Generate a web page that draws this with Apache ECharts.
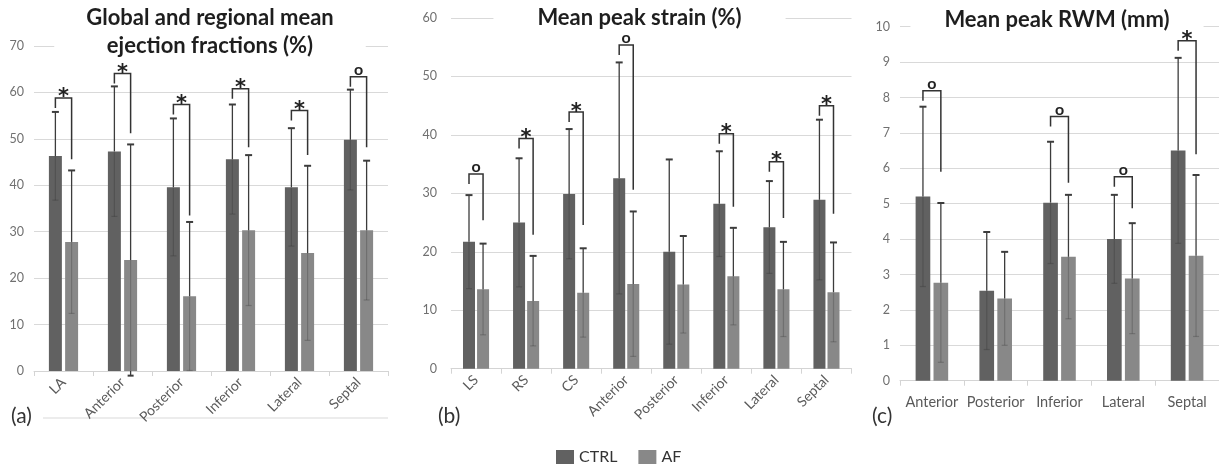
<!DOCTYPE html>
<html>
<head>
<meta charset="utf-8">
<script src="https://cdn.jsdelivr.net/npm/echarts@6/dist/echarts.min.js"></script>
<style>
  html, body { margin: 0; padding: 0; background: #fff; }
  #main { width: 1219px; height: 470px; }
</style>
</head>
<body>
<div id="main"></div>
<script>
// (a) ejection fractions
const catsA = ['LA', 'Anterior', 'Posterior', 'Inferior', 'Lateral', 'Septal']
const ctrlA = [46.3, 47.3, 39.6, 45.6, 39.6, 49.8]
const ctrlSdA = [9.5, 14.0, 14.8, 11.8, 12.7, 10.8]
const afA = [27.8, 23.9, 16.1, 30.3, 25.4, 30.3]
const afSdA = [15.4, 24.9, 16.0, 16.2, 18.8, 15.0]
const sigMarkA = ['*', '*', '*', '*', '*', 'o']
const sigTopA = [58.8, 64.1, 57.4, 60.8, 56.1, 63.4]
const sigEndA = [45.6, 51.2, 33.5, 48.2, 46.5, 48.2]

// (b) peak strain
const catsB = ['LS', 'RS', 'CS', 'Anterior', 'Posterior', 'Inferior', 'Lateral', 'Septal']
const ctrlB = [21.7, 25.0, 29.9, 32.6, 20.0, 28.2, 24.2, 28.9]
const ctrlSdB = [8.0, 11.0, 11.1, 19.8, 15.8, 9.0, 7.9, 13.7]
const afB = [13.6, 11.6, 13.0, 14.5, 14.4, 15.8, 13.6, 13.1]
const afSdB = [7.8, 7.7, 7.6, 12.4, 8.3, 8.3, 8.1, 8.5]
const sigMarkB = ['o', '*', '*', 'o', '', '*', '*', '*']
const sigTopB = [33.3, 39.4, 43.9, 55.4, null, 40.2, 35.4, 45.0]
const sigEndB = [25.4, 22.9, 24.6, 30.6, null, 27.7, 25.8, 26.5]

// (c) peak RWM
const catsC = ['Anterior', 'Posterior', 'Inferior', 'Lateral', 'Septal']
const ctrlC = [5.2, 2.54, 5.03, 4.0, 6.5]
const ctrlSdC = [2.54, 1.66, 1.72, 1.25, 2.62]
const afC = [2.77, 2.32, 3.5, 2.89, 3.53]
const afSdC = [2.25, 1.32, 1.75, 1.56, 2.28]
const sigMarkC = ['o', '', 'o', 'o', '*']
const sigTopC = [8.19, null, 7.46, 5.76, 9.6]
const sigEndC = [5.9, null, 5.59, 4.87, 6.4]

const CTRL_COLOR = '#616161'
const AF_COLOR = '#888888'
const FONT = 'Lato'

// error bar drawn at the bar centre (side -1 = CTRL, +1 = AF)
function errorItem (side, pct, gapPct) {
  return function (params, api) {
    const i = api.value(0)
    const w = api.size([1, 0])[0] * pct
    const x = api.coord([i, 0])[0] + side * (w + w * gapPct) / 2
    const zero = api.coord([i, 0])[1]
    const top = api.coord([i, api.value(1) + api.value(2)])[1]
    const mid = api.coord([i, api.value(1)])[1]
    const bot = api.coord([i, api.value(1) - api.value(2)])[1]
    const dark = { stroke: '#3c3c3c', lineWidth: 1.3 }
    const faint = { stroke: 'rgba(40,40,40,0.25)', lineWidth: 1.2 }
    const children = [
      { type: 'line', shape: { x1: x, y1: top, x2: x, y2: mid }, style: dark },
      { type: 'line', shape: { x1: x - 3.5, y1: top, x2: x + 3.5, y2: top }, style: { stroke: '#3c3c3c', lineWidth: 2 } },
      { type: 'line', shape: { x1: x, y1: mid, x2: x, y2: Math.min(bot, zero) }, style: faint },
      { type: 'line', shape: { x1: x - 3, y1: bot, x2: x + 3, y2: bot }, style: bot > zero ? { stroke: '#3c3c3c', lineWidth: 2 } : faint }
    ]
    if (bot > zero) {
      children.push({ type: 'line', shape: { x1: x, y1: zero, x2: x, y2: bot }, style: dark })
    }
    return { type: 'group', children }
  }
}

// significance bracket from CTRL to AF
function bracketItem (pct, gapPct, marks) {
  return function (params, api) {
    const i = api.value(0)
    const w = api.size([1, 0])[0] * pct
    const off = (w + w * gapPct) / 2
    const cx = api.coord([i, 0])[0]
    const yTop = api.coord([i, api.value(1)])[1]
    const yEnd = api.coord([i, api.value(2)])[1]
    const mark = marks[i]
    return {
      type: 'group',
      children: [
        {
          type: 'polyline',
          shape: { points: [[cx - off, yTop + 10], [cx - off, yTop], [cx + off, yTop], [cx + off, yEnd]] },
          style: { stroke: '#333', fill: null, lineWidth: 1.5 }
        },
        {
          type: 'text',
          style: {
            text: mark,
            x: cx,
            y: mark === '*' ? yTop : yTop - 7,
            fill: '#222',
            font: mark === '*' ? 'bold 21px "DejaVu Sans"' : 'bold 16px ' + FONT,
            align: 'center',
            verticalAlign: 'middle'
          }
        }
      ]
    }
  }
}

function panelSeries (idx, ctrl, ctrlSd, af, afSd, sigTop, sigEnd, marks, pct, gapPct) {
  const barW = Math.round(pct * 100) + '%'
  const gap = Math.round(gapPct * 100) + '%'
  const sig = []
  sigTop.forEach((v, i) => { if (v !== null) sig.push([i, v, sigEnd[i]]) })
  return [
    { name: 'CTRL', type: 'bar', xAxisIndex: idx, yAxisIndex: idx, data: ctrl, barWidth: barW, barGap: gap, itemStyle: { color: CTRL_COLOR }, z: 2 },
    { name: 'AF', type: 'bar', xAxisIndex: idx, yAxisIndex: idx, data: af, barWidth: barW, barGap: gap, itemStyle: { color: AF_COLOR }, z: 2 },
    { type: 'custom', xAxisIndex: idx, yAxisIndex: idx, renderItem: errorItem(-1, pct, gapPct), data: ctrl.map((v, i) => [i, v, ctrlSd[i]]), z: 3, silent: true },
    { type: 'custom', xAxisIndex: idx, yAxisIndex: idx, renderItem: errorItem(1, pct, gapPct), data: af.map((v, i) => [i, v, afSd[i]]), z: 3, silent: true },
    { type: 'custom', xAxisIndex: idx, yAxisIndex: idx, renderItem: bracketItem(pct, gapPct, marks), data: sig, z: 8, silent: true }
  ]
}

const gridLine = { lineStyle: { color: '#d9d9d9', width: 1 } }
const axisLabelStyle = { color: '#5a5a5a', fontFamily: FONT }

function xAxis (idx, cats, rotate, size) {
  return {
    type: 'category',
    gridIndex: idx,
    data: cats,
    axisLine: { lineStyle: { color: '#d4d4d4', width: 1 } },
    axisTick: { show: true, length: 5, lineStyle: { color: '#d4d4d4' } },
    axisLabel: Object.assign({ rotate, fontSize: size, margin: rotate ? 9 : 14, interval: 0 }, axisLabelStyle)
  }
}

function yAxis (idx, max, interval, margin) {
  return {
    type: 'value',
    gridIndex: idx,
    min: 0,
    max,
    interval,
    axisLine: { show: false },
    axisTick: { show: false },
    splitLine: gridLine,
    axisLabel: Object.assign({ fontSize: 12.5, margin }, axisLabelStyle, { color: '#707070' })
  }
}

function title (text, left, top, padX, lineHeight) {
  return {
    text,
    left,
    top,
    textAlign: 'center',
    padding: [2, padX],
    backgroundColor: '#fff',
    textStyle: { fontFamily: FONT, fontWeight: 'bold', fontSize: 22, color: '#1e1e1e', lineHeight }
  }
}

const myChart = echarts.init(document.getElementById('main'))

const option = {
  animation: false,
  backgroundColor: '#fff',
  title: [
    title('Global and regional mean\nejection fractions (%)', 210 - 32, 2, 32, 28),
    title('Mean peak strain (%)', 639.5 - 44, 3, 44, 26),
    title('Mean peak RWM (mm)', 1057 - 34, 5, 34, 26)
  ],
  legend: {
    data: ['CTRL', 'AF'],
    left: 551,
    top: 444,
    icon: 'rect',
    itemWidth: 18,
    itemHeight: 14,
    itemGap: 21,
    textStyle: { fontFamily: FONT, fontSize: 16, color: '#333' }
  },
  grid: [
    { left: 34, top: 46, width: 354, height: 325 },
    { left: 451, top: 18, width: 400.5, height: 350.7 },
    { left: 900, top: 26.7, width: 322.5, height: 354 }
  ],
  xAxis: [
    xAxis(0, catsA, 45, 14),
    xAxis(1, catsB, 45, 14),
    xAxis(2, catsC, 0, 14.5)
  ],
  yAxis: [
    yAxis(0, 70, 10, 10),
    yAxis(1, 60, 10, 14),
    yAxis(2, 10, 1, 10)
  ],
  graphic: [
    { type: 'line', shape: { x1: 43, y1: 418, x2: 388, y2: 418 }, style: { stroke: '#ececec', lineWidth: 2 }, z: -1 },
    { type: 'text', left: 11, top: 406, style: { text: '(a)', font: '21px ' + FONT, fill: '#333' } },
    { type: 'text', left: 438, top: 406, style: { text: '(b)', font: '21px ' + FONT, fill: '#333' } },
    { type: 'text', left: 872, top: 406, style: { text: '(c)', font: '21px ' + FONT, fill: '#333' } }
  ],
  series: [
    ...panelSeries(0, ctrlA, ctrlSdA, afA, afSdA, sigTopA, sigEndA, sigMarkA, 0.22, 0.25),
    ...panelSeries(1, ctrlB, ctrlSdB, afB, afSdB, sigTopB, sigEndB, sigMarkB, 0.24, 0.17),
    ...panelSeries(2, ctrlC, ctrlSdC, afC, afSdC, sigTopC, sigEndC, sigMarkC, 0.23, 0.22)
  ]
}

myChart.setOption(option)
</script>
</body>
</html>
